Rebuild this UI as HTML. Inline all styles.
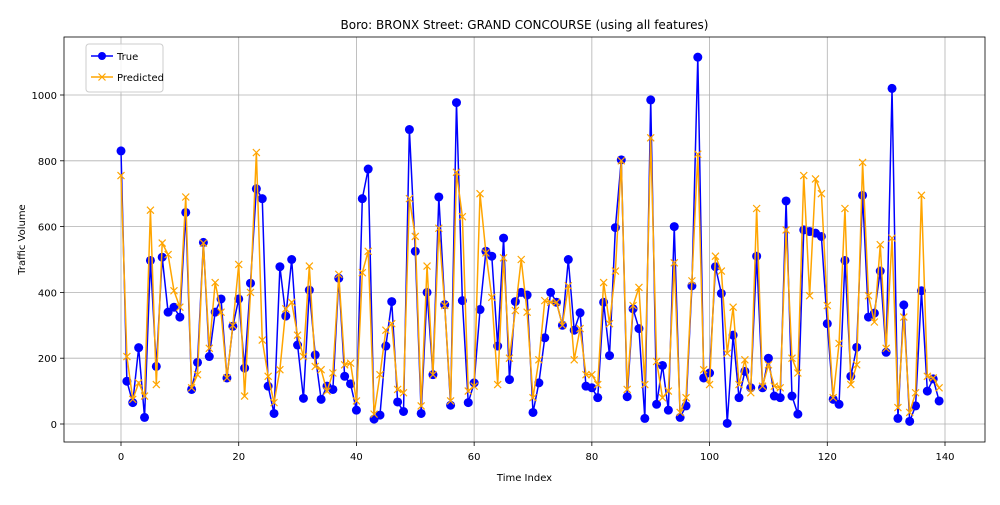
<!DOCTYPE html>
<html><head><meta charset="utf-8"><style>
body{margin:0;background:#fff;font-family:"Liberation Sans","DejaVu Sans",sans-serif}
svg text{font-family:"DejaVu Sans","Liberation Sans",sans-serif}
</style></head><body>
<svg id="chart" width="1000" height="500">
<rect width="1000" height="500" fill="#fff"/>
</svg>
<script>
const trueVals=[830,130,65,232,20,497,175,507,340,355,325,643,105,187,552,205,340,380,140,297,380,170,428,715,685,115,32,478,328,500,240,78,407,210,75,115,105,443,145,122,42,685,775,15,27,237,372,67,38,895,525,32,400,150,690,363,57,977,375,65,125,348,525,510,237,565,135,372,400,392,35,125,262,400,370,300,500,285,338,115,110,80,370,208,597,803,83,350,290,17,985,60,178,42,600,20,55,420,1115,140,155,478,397,2,270,80,160,110,510,110,200,85,80,678,85,30,590,585,580,570,305,75,60,497,145,233,695,325,337,465,218,1020,17,362,8,55,405,100,137,70];
const predVals=[755,205,75,125,85,650,120,550,515,405,355,690,110,150,550,230,430,340,140,300,485,85,400,825,255,145,65,165,350,370,270,205,480,175,165,100,155,455,180,185,70,460,525,30,150,285,305,105,95,685,570,55,480,150,595,360,70,765,630,100,115,700,520,385,120,505,200,345,500,340,80,195,375,370,370,300,420,195,290,150,150,120,430,305,465,800,105,360,415,120,870,190,80,100,490,35,80,435,820,165,120,510,465,215,355,120,195,95,655,115,180,115,110,590,200,155,755,390,745,700,360,80,245,655,120,180,795,390,310,545,230,565,50,325,35,95,695,145,140,110];
const xTicks=[0,20,40,60,80,100,120,140];
const yTicks=[0,200,400,600,800,1000];
const L=64,R=985,T=37,B=442;
const xs=i=>121+i*(824/140);
const ys=v=>424-v*0.329;
const svg=document.getElementById('chart');
const NS='http://www.w3.org/2000/svg';
function mk(t,a,p){const e=document.createElementNS(NS,t);for(const k in a)e.setAttribute(k,a[k]);(p||svg).appendChild(e);return e;}
xTicks.forEach(t=>{
 const g=mk('line',{x1:xs(t),x2:xs(t),y1:T,y2:B,stroke:'#b0b0b0','stroke-width':0.8});
 
 
 mk('line',{x1:xs(t),x2:xs(t),y1:B,y2:B+4,stroke:'#000','stroke-width':0.8});
 const tx=mk('text',{x:xs(t),y:B+18,'font-size':10,'text-anchor':'middle',fill:'#000'});tx.textContent=t;
 
 
});
yTicks.forEach(t=>{
 const g=mk('line',{x1:L,x2:R,y1:ys(t),y2:ys(t),stroke:'#b0b0b0','stroke-width':0.8});
 
 
 mk('line',{x1:L-4,x2:L,y1:ys(t),y2:ys(t),stroke:'#000','stroke-width':0.8});
 const tx=mk('text',{x:L-7,y:ys(t)+4,'font-size':10,'text-anchor':'end',fill:'#000'});tx.textContent=t;
 
 
});
const tp=mk('polyline',{points:trueVals.map((v,i)=>xs(i)+','+ys(v)).join(' '),fill:'none',stroke:'#0000ff','stroke-width':1.5});


trueVals.forEach((v,i)=>{
 const c=mk('circle',{cx:xs(i),cy:ys(v),r:4.5,fill:'#0000ff'});
 
 
});
const pp=mk('polyline',{points:predVals.map((v,i)=>xs(i)+','+ys(v)).join(' '),fill:'none',stroke:'#ffa500','stroke-width':1.5});


predVals.forEach((v,i)=>{
 const x=xs(i),y=ys(v);
 const m=mk('path',{d:`M${x-3.5},${y-3.5}L${x+3.5},${y+3.5}M${x-3.5},${y+3.5}L${x+3.5},${y-3.5}`,stroke:'#ffa500','stroke-width':1.2,fill:'none'});
 
 
});
const fr=mk('rect',{x:L,y:T,width:R-L,height:B-T,fill:'none',stroke:'#000','stroke-width':0.8});


const ti=mk('text',{x:(L+R)/2,y:29,'font-size':12,'text-anchor':'middle'});ti.textContent='Boro: BRONX Street: GRAND CONCOURSE (using all features)';


const xt=mk('text',{x:(L+R)/2,y:481,'font-size':10,'text-anchor':'middle'});xt.textContent='Time Index';


const yt=mk('text',{x:25,y:(T+B)/2,'font-size':10,'text-anchor':'middle',transform:`rotate(-90 25 ${(T+B)/2})`});yt.textContent='Traffic Volume';


const lg=mk('g',{});


mk('rect',{x:86,y:44,width:77,height:48,rx:3,fill:'#fff','fill-opacity':0.85,stroke:'#ccc'},lg);
mk('line',{x1:91,x2:113,y1:56,y2:56,stroke:'#0000ff','stroke-width':1.5},lg);
mk('circle',{cx:102,cy:56,r:4,fill:'#0000ff'},lg);
const l1=mk('text',{x:117,y:60,'font-size':10},lg);l1.textContent='True';


mk('line',{x1:91,x2:113,y1:77,y2:77,stroke:'#ffa500','stroke-width':1.5},lg);
mk('path',{d:'M98.5,73.5L105.5,80.5M98.5,80.5L105.5,73.5',stroke:'#ffa500','stroke-width':1.2},lg);
const l2=mk('text',{x:117,y:81,'font-size':10},lg);l2.textContent='Predicted';


</script>
</body></html>
